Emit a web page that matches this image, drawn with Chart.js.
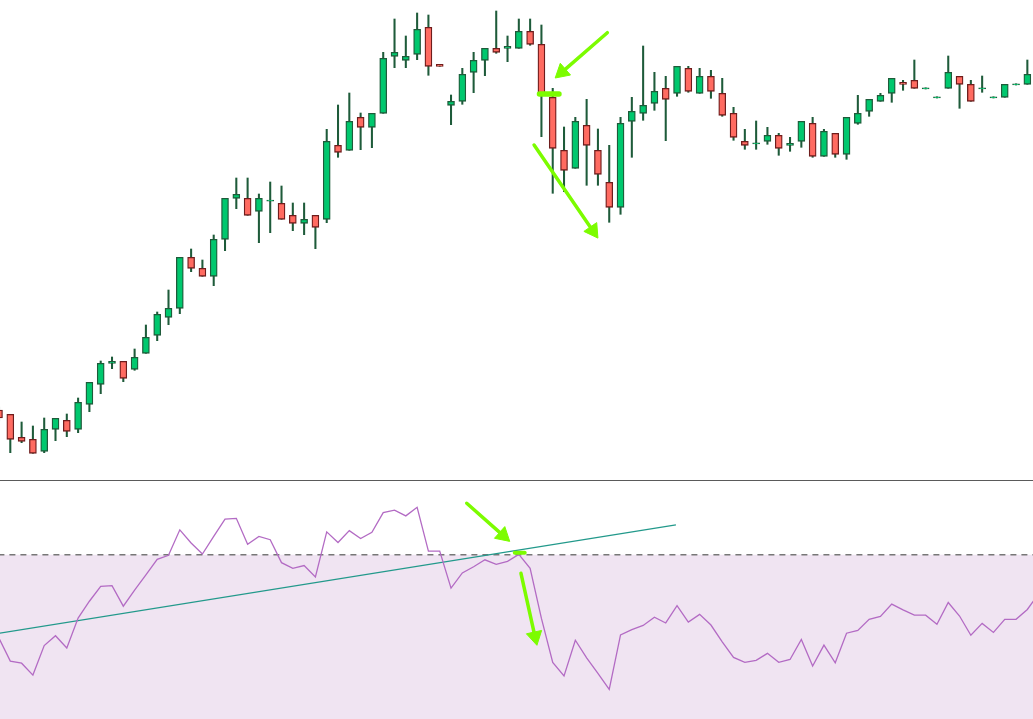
<!DOCTYPE html>
<html>
<head>
<meta charset="utf-8">
<script src="https://cdn.jsdelivr.net/npm/chart.js@4.4.1/dist/chart.umd.min.js"></script>
<style>
html,body{margin:0;padding:0;background:#fff;overflow:hidden;width:1033px;height:719px;}
#top{position:absolute;left:0;top:0;width:1033px;height:480px;}
#sep{position:absolute;left:0;top:480px;width:1033px;height:1px;background:#5a5a5a;}
#bot{position:absolute;left:0;top:481px;width:1033px;height:238px;}
</style>
</head>
<body>
<div id="top"><canvas id="c1"></canvas></div>
<div id="sep"></div>
<div id="bot"><canvas id="c2"></canvas></div>
<script>
// ---- candle data (price units) ----
const opens = [90,85.7,62.7,60.7,48.7,70.7,79.7,70.7,95.7,115.7,136.7,138.7,130.7,146.7,164.7,182.7,191.7,242.7,231.7,223.7,
  260.7,301.7,301.7,288.7,298.8,296.7,284.7,276.7,284.7,280.7,354.7,349.7,382.7,372.7,386.7,443.7,439.7,445.7,472.7,435.7,
  394.7,398.7,427.7,439.7,451.7,451.7,451.7,468.7,455.7,402.7,349.7,331.7,374.7,349.7,317.7,292.7,378.7,386.7,396.7,411.7,
  406.7,431.7,406.7,423.7,406.7,386.7,358.7,356,358.7,364.7,354.7,358.7,376.7,343.7,366.7,345.7,376.7,388.7,398.7,406.7,
  417.7,419.7,411,402,411.7,423.7,415.7,411,402,402.7,415,415.7];
const highs = [93,85.7,78,74,82,81.7,86,102,117.7,139,143,138.7,151,175,188,210,242.7,251,240,265,
  301.7,322,322,306,318,314,297,297,284.7,370.7,395,407,387,386.7,447.7,481,464,487,485,435.7,
  405,431.7,447.7,451.7,489,464,481,481,475,411.7,373,382.7,400.7,371,354.7,382.7,402.7,454,427.7,423.7,
  433.7,433.7,431.7,429.7,421.7,392.7,370.7,379,372.7,366.7,362.7,378.7,382.7,370.7,366.7,382.7,404.7,400.7,406.7,421.7,
  419.7,440,412.2,403.2,444,423.7,419.7,424,403.2,415.7,416.2,440];
const lows = [79,47.3,57.3,46.7,47.3,59.3,63.3,67.3,88.3,106.3,131.3,118.3,129.7,146.7,159.3,175.3,186.3,228.3,223.7,214.3,
  249.3,291.3,284.7,257.3,267.3,280.7,269.3,265.3,251.3,277.3,342.7,349.7,350.3,352.3,386.7,432.3,432.3,440.3,424.7,433.7,
  375.3,395.7,407.3,424.3,446.7,438.3,451.7,454.7,363.3,306.7,308.3,331.7,314.7,314.7,277.7,285.7,342.7,379.7,389.7,359.3,
  403.7,407.7,406.7,401.7,383.7,359.7,350.7,350.7,355.7,344.7,348.7,352.7,342.7,343.7,342.7,340.7,375.7,383.7,398.7,397.7,
  409.7,411.7,411,402,411.7,391.7,398.7,407.7,402,402.7,415,415.7];
const closes = [82,60.7,58.7,46.7,70.7,81.7,68.7,97.7,117.7,136.7,138.7,121.7,142.7,162.7,185.7,191.7,242.7,231.7,223.7,260.7,
  301.7,305.7,284.7,301.7,300,280.7,276.7,280.7,272.7,358.7,347.7,378.7,372.7,386.7,441.7,447.7,443.7,470.7,433.7,433.7,
  398.7,425.7,439.7,451.7,447.7,453.7,468.7,455.7,407,351.7,329.7,378.7,354.7,325.7,292.7,376.7,388.7,394.7,408.7,400.7,
  433.7,408.7,423.7,408.7,384.7,362.7,354.7,357.2,364.7,351.7,356.7,378.7,343.7,368.7,345.7,382.7,386.7,400.7,404.7,421.7,
  415.7,411.7,412.2,403.2,427.7,415.7,398.7,412.2,403.2,415.7,416.2,425.7];

// ---- oscillator (RSI) ----
const rsiValues = [49.7,44.1,43.6,40.7,47.9,50.3,47.3,54.6,58.7,62.3,62.5,57.5,61.4,65.1,68.9,69.9,76.1,72.9,70.2,74.5,
  78.7,78.9,72.6,74.5,73.7,68.1,66.7,67.4,64.6,75.6,73.0,75.9,74.0,75.5,80.3,80.9,79.5,81.6,70.9,70.9,
  61.9,65.6,67.1,68.8,67.7,68.4,70.1,66.7,54.5,43.8,40.5,49.2,44.9,41.1,37.2,50.5,51.8,52.8,54.8,53.4,
  57.6,53.6,55.5,52.9,48.8,45.0,43.8,44.3,46.0,43.8,44.5,49.4,42.9,48.0,43.7,50.9,51.6,54.3,55.0,58.0,
  56.6,55.3,55.3,53.1,58.4,55.1,50.4,53.3,51.1,54.3,54.3,56.7,60.5];
const rsiLevel = 70;
const rsiFloor = 30;
const trendLine = [[0, 50.9], [59.9, 77.3]];

// ---- annotations (data units: candle index, value) ----
const arrowsTop = [[53.83, 467.3, 49.82, 427.9], [47.35, 355, 52.55, 269.3]];
const markTop = [47.82, 406, 49.56, 406];
const arrowsBottom = [[41.39, 82.57, 44.6, 74.74], [46.19, 65.51, 47.43, 50.1]];
const markBottom = [45.64, 70.53, 46.52, 70.53];

const GREEN = '#00C86E', GREEN_B = '#1E5B3A', RED = '#FF6B61', RED_B = '#6E1C1C', WICK = '#1E5B3A';
const ANN = '#7CFC00';

const isUp = opens.map((o, i) => closes[i] >= o);
const xRange = {min: 0.0885, max: 91.5};

function arrowDs(a) {
  return {
    type: 'line',
    data: [{x: a[0], y: a[1]}, {x: a[2], y: a[3]}],
    borderColor: ANN, backgroundColor: ANN, borderWidth: 3.5, borderCapStyle: 'round',
    pointRadius: [0, 9], pointHoverRadius: [0, 9], pointStyle: 'triangle',
    pointBackgroundColor: ANN, pointBorderColor: ANN, pointBorderWidth: 1,
    pointRotation: (ctx) => {
      const d = ctx.dataset.data, sx = ctx.chart.scales.x, sy = ctx.chart.scales.y;
      const dx = sx.getPixelForValue(d[1].x) - sx.getPixelForValue(d[0].x);
      const dy = sy.getPixelForValue(d[1].y) - sy.getPixelForValue(d[0].y);
      return Math.atan2(dx, -dy) * 180 / Math.PI;
    },
    order: 0, clip: false
  };
}
function markDs(m, w) {
  return {
    type: 'line', data: [{x: m[0], y: m[1]}, {x: m[2], y: m[3]}],
    borderColor: ANN, borderWidth: w, borderCapStyle: 'round', pointRadius: 0, order: 0, clip: false
  };
}

const common = {
  responsive: true, maintainAspectRatio: false, animation: false,
  layout: {padding: 0, autoPadding: false},
  plugins: {legend: {display: false}, tooltip: {enabled: false}},
  events: []
};

new Chart(document.getElementById('c1'), {
  type: 'bar',
  data: {
    datasets: [
      {
        data: opens.map((o, i) => ({x: i, y: [lows[i], highs[i]]})),
        backgroundColor: WICK, borderWidth: 0, barThickness: 1.4, grouped: false, order: 2
      },
      {
        data: opens.map((o, i) => ({x: i, y: [o, closes[i]]})),
        backgroundColor: isUp.map(u => u ? GREEN : RED),
        borderColor: isUp.map(u => u ? GREEN_B : RED_B),
        borderWidth: 1.3, borderSkipped: false, barThickness: 7, grouped: false, order: 1
      },
      ...arrowsTop.map(arrowDs),
      markDs(markTop, 5.3)
    ]
  },
  options: Object.assign({}, common, {
    scales: {
      x: {type: 'linear', min: xRange.min, max: xRange.max, offset: false, display: false},
      y: {type: 'linear', min: 20, max: 500, display: false}
    }
  })
});

new Chart(document.getElementById('c2'), {
  type: 'line',
  data: {
    datasets: [
      {
        data: [{x: -2, y: rsiLevel}, {x: 95, y: rsiLevel}],
        borderColor: '#777777', borderWidth: 1.5, borderDash: [6, 5], pointRadius: 0,
        fill: {value: rsiFloor}, backgroundColor: '#F0E4F2', order: 5
      },
      {
        data: trendLine.map(p => ({x: p[0], y: p[1]})),
        borderColor: '#22998B', borderWidth: 1.2, pointRadius: 0, order: 3
      },
      {
        data: rsiValues.map((v, i) => ({x: i, y: v})),
        borderColor: '#B36BC4', borderWidth: 1.3, pointRadius: 0, tension: 0, order: 2
      },
      ...arrowsBottom.map(arrowDs),
      markDs(markBottom, 4)
    ]
  },
  options: Object.assign({}, common, {
    scales: {
      x: {type: 'linear', min: xRange.min, max: xRange.max, offset: false, display: false},
      y: {type: 'linear', min: rsiFloor, max: 88, display: false}
    }
  })
});
</script>
</body>
</html>
